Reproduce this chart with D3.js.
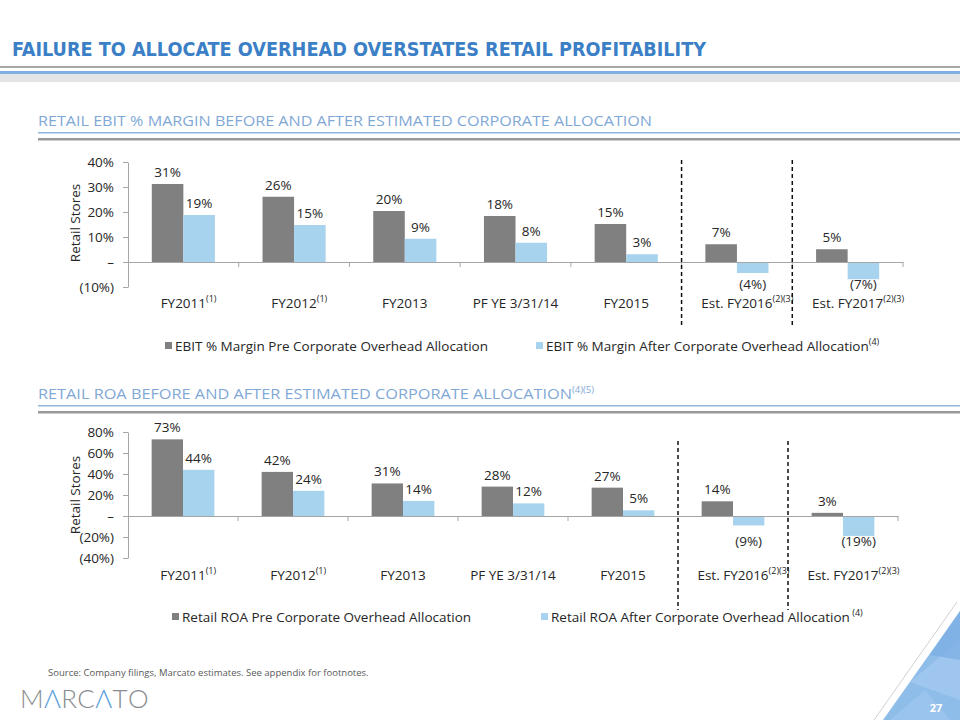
<!DOCTYPE html>
<html>
<head>
<meta charset="utf-8">
<script src="https://cdn.jsdelivr.net/npm/d3@7"></script>
<style>
  html, body { margin: 0; padding: 0; background: #fff; }
  svg { display: block; font-family: "Open Sans", "DejaVu Sans", sans-serif; }
</style>
</head>
<body>
<svg id="chart" width="960" height="720"></svg>
<script>
// ---------------- DATA ----------------
const categories = ["FY2011", "FY2012", "FY2013", "PF YE 3/31/14", "FY2015", "Est. FY2016", "Est. FY2017"];
const categoryNotes = ["(1)", "(1)", "", "", "", "(2)(3)", "(2)(3)"];

const ebitPre   = [0.312, 0.261, 0.204, 0.184, 0.152, 0.071, 0.051];
const ebitAfter = [0.188, 0.148, 0.093, 0.077, 0.031, -0.044, -0.069];
const ebitTicks = [-0.10, 0, 0.10, 0.20, 0.30, 0.40];
const ebitSeriesNames = ["EBIT % Margin Pre Corporate Overhead Allocation", "EBIT % Margin After Corporate Overhead Allocation"];
const ebitSeriesNotes = ["", "(4)"];

const roaPre   = [0.73, 0.42, 0.31, 0.28, 0.27, 0.14, 0.03];
const roaAfter = [0.44, 0.24, 0.144, 0.12, 0.054, -0.09, -0.19];
const roaTicks = [-0.40, -0.20, 0, 0.20, 0.40, 0.60, 0.80];
const roaSeriesNames = ["Retail ROA Pre Corporate Overhead Allocation", "Retail ROA After Corporate Overhead Allocation"];
const roaSeriesNotes = ["", " (4)"];

const dividerAfter = [4, 5]; // dashed separators after these category indexes

// ---------------- STYLE ----------------
const COL_PRE = "#808080";
const COL_AFTER = "#a8d3ee";
const TXT = "#262626";
const AXIS = "#a6a6a6";

const svg = d3.select("#chart");

// ---------------- HEADER ----------------
svg.append("text")
  .attr("x", 12).attr("y", 56)
  .attr("font-family", "'Liberation Sans Narrow', 'DejaVu Sans Condensed', 'Liberation Sans', sans-serif")
  .attr("font-weight", "bold").attr("font-size", 20)
  .attr("fill", "#3b7fc6")
  .attr("textLength", 694).attr("lengthAdjust", "spacingAndGlyphs")
  .text("FAILURE TO ALLOCATE OVERHEAD OVERSTATES RETAIL PROFITABILITY");

svg.append("rect").attr("x", 0).attr("y", 66).attr("width", 960).attr("height", 2).attr("fill", "#a9a9a9");
svg.append("rect").attr("x", 0).attr("y", 71).attr("width", 960).attr("height", 3).attr("fill", "#7eafe0");
svg.append("rect").attr("x", 0).attr("y", 74).attr("width", 960).attr("height", 8).attr("fill", "#e3e4e6");

function sectionHeader(y, label, note, len) {
  const t = svg.append("text")
    .attr("x", 38).attr("y", y)
    .attr("font-size", 15).attr("fill", "#7fa8d6");
  t.append("tspan").attr("textLength", len).attr("lengthAdjust", "spacingAndGlyphs").text(label);
  if (note) {
    t.append("tspan").attr("font-size", 9.5).attr("dy", -6).text(note);
  }
  svg.append("rect").attr("x", 38).attr("y", y + 6).attr("width", 922).attr("height", 1.5).attr("fill", "#8fb6de");
  svg.append("rect").attr("x", 38).attr("y", y + 12).attr("width", 922).attr("height", 2.5).attr("fill", "#9a9a9a");
}
sectionHeader(126, "RETAIL EBIT % MARGIN BEFORE AND AFTER ESTIMATED CORPORATE ALLOCATION", "", 614);
sectionHeader(399, "RETAIL ROA BEFORE AND AFTER ESTIMATED CORPORATE ALLOCATION", "(4)(5)", 534);

// ---------------- CHART ----------------
function pctFmt(v) {
  const r = Math.round(Math.abs(v) * 100);
  if (r === 0) return "\u2013";
  return v < 0 ? "(" + r + "%)" : r + "%";
}

function drawChart(cfg) {
  const g = svg.append("g");
  const x = d3.scaleBand().domain(categories).range(cfg.xRange).paddingInner(0).paddingOuter(0);
  const y = d3.scaleLinear().domain(cfg.yDomain).range(cfg.yRange);
  const groupW = x.bandwidth() * 0.57;
  const xs = d3.scaleBand().domain([0, 1]).range([0, groupW]).padding(0);

  // y axis
  const yAxis = d3.axisLeft(y).tickValues(cfg.ticks).tickFormat(pctFmt)
    .tickSize(5).tickSizeOuter(0).tickPadding(9);
  const ya = g.append("g").attr("transform", `translate(${cfg.xRange[0]},0)`).call(yAxis);
  ya.select(".domain").attr("stroke", AXIS);
  ya.selectAll(".tick line").attr("stroke", AXIS);
  ya.selectAll(".tick text").attr("fill", TXT).attr("font-size", 13.5)
    .attr("font-family", "'Open Sans', sans-serif");

  // y title
  g.append("text")
    .attr("transform", `translate(${cfg.yTitleX},${cfg.yTitleY}) rotate(-90)`)
    .attr("text-anchor", "middle").attr("font-size", 13.5).attr("fill", TXT)
    .text("Retail Stores");

  // bars
  const series = [cfg.pre, cfg.after];
  const colors = [COL_PRE, COL_AFTER];
  series.forEach((vals, si) => {
    g.append("g").selectAll("rect").data(vals).join("rect")
      .attr("x", (d, i) => x(categories[i]) + (x.bandwidth() - groupW) / 2 + xs(si))
      .attr("width", xs.bandwidth())
      .attr("y", d => y(Math.max(0, d)))
      .attr("height", d => Math.abs(y(d) - y(0)))
      .attr("fill", colors[si]);
  });

  // x axis line at zero
  const xa = g.append("g").attr("transform", `translate(0,${y(0)})`)
    .call(d3.axisBottom(x).tickSize(0).tickSizeOuter(0).tickFormat(""));
  xa.select(".domain").attr("stroke", AXIS);
  // boundary tick marks
  g.append("g").selectAll("line").data(categories).join("line")
    .attr("x1", c => x(c) + x.bandwidth()).attr("x2", c => x(c) + x.bandwidth())
    .attr("y1", y(0)).attr("y2", y(0) + 5)
    .attr("stroke", AXIS);

  // value labels
  const minNeg = d3.min(series.flat().filter(v => v < 0));
  series.forEach((vals, si) => {
    g.append("g").selectAll("text").data(vals).join("text")
      .attr("x", (d, i) => x(categories[i]) + (x.bandwidth() - groupW) / 2 + xs(si) + xs.bandwidth() / 2)
      .attr("y", d => d >= 0 ? y(d) - 7 : y(minNeg) + 10)
      .attr("text-anchor", "middle").attr("font-size", 13.5).attr("fill", TXT)
      .text(pctFmt);
  });

  // category labels
  const cl = g.append("g").selectAll("text").data(categories).join("text")
    .attr("y", cfg.catY).attr("font-size", 13.5).attr("fill", TXT);
  cl.each(function (c, i) {
    const t = d3.select(this);
    t.append("tspan").text(c);
    const w = this.getComputedTextLength();
    t.attr("x", x(c) + x.bandwidth() / 2 - w / 2);
    if (categoryNotes[i]) {
      t.append("tspan").attr("font-size", 9).attr("dy", -6).text(categoryNotes[i]);
    }
  });

  // dashed separators
  g.append("g").selectAll("line").data(dividerAfter).join("line")
    .attr("x1", i => x(categories[i]) + x.bandwidth())
    .attr("x2", i => x(categories[i]) + x.bandwidth())
    .attr("y1", cfg.dashY[0]).attr("y2", cfg.dashY[1])
    .attr("stroke", "#111").attr("stroke-width", 1.5).attr("stroke-dasharray", "4,3");

  // legend
  cfg.names.forEach((name, si) => {
    const lx = cfg.legendX[si];
    g.append("rect").attr("x", lx).attr("y", cfg.legendY - 9).attr("width", 7).attr("height", 7)
      .attr("fill", colors[si]);
    const t = g.append("text").attr("x", lx + 10).attr("y", cfg.legendY)
      .attr("font-size", 13.5).attr("fill", TXT);
    t.append("tspan").text(name);
    if (cfg.notes[si]) t.append("tspan").attr("font-size", 9).attr("dy", -6).text(cfg.notes[si]);
  });
}

drawChart({
  xRange: [128, 903], yDomain: [-0.10, 0.40], yRange: [287, 162], ticks: ebitTicks,
  pre: ebitPre, after: ebitAfter, names: ebitSeriesNames, notes: ebitSeriesNotes,
  yTitleX: 80, yTitleY: 223, catY: 308, dashY: [160, 327],
  legendX: [165, 536], legendY: 351
});

drawChart({
  xRange: [128, 898], yDomain: [-0.40, 0.80], yRange: [558, 432], ticks: roaTicks,
  pre: roaPre, after: roaAfter, names: roaSeriesNames, notes: roaSeriesNotes,
  yTitleX: 80, yTitleY: 495, catY: 580, dashY: [441, 610],
  legendX: [172, 541], legendY: 622
});

// ---------------- FOOTER ----------------
svg.append("text").attr("x", 48).attr("y", 676)
  .attr("font-size", 9.5).attr("fill", "#595959")
  .text("Source: Company filings, Marcato estimates. See appendix for footnotes.");

// logo: one text element per letter
const logoLetters = [["M", "#8a8c8f"], ["\u039B", "#5b9fdc"], ["R", "#8a8c8f"], ["C", "#8a8c8f"],
                     ["\u039B", "#5b9fdc"], ["T", "#8a8c8f"], ["O", "#8a8c8f"]];
const logoG = svg.append("g");
let lxPos = 20;
logoLetters.forEach(([s, c]) => {
  const t = logoG.append("text").attr("x", lxPos).attr("y", 708)
    .attr("font-family", "Lato, 'Open Sans', sans-serif").attr("font-weight", 300)
    .attr("font-size", 26).attr("fill", c).text(s);
  lxPos += t.node().getComputedTextLength() + 0.3;
});

// decorative corner
const deco = svg.append("g");
deco.append("line").attr("x1", 874).attr("y1", 720).attr("x2", 957).attr("y2", 602)
  .attr("stroke", "#d0d0d0").attr("stroke-width", 1);
deco.append("polygon").attr("points", "883,720 960,611 960,720").attr("fill", "#8fbde9");
deco.append("polygon").attr("points", "910,682 960,640 960,700").attr("fill", "#a5cbef").attr("opacity", 0.7);
deco.append("polygon").attr("points", "930,655 960,611 960,660").attr("fill", "#7aaee2").attr("opacity", 0.7);
deco.append("polygon").attr("points", "890,720 925,690 950,720").attr("fill", "#9ec8ee").attr("opacity", 0.7);
svg.append("text").attr("x", 936).attr("y", 712).attr("text-anchor", "middle")
  .attr("font-size", 11).attr("font-weight", "bold").attr("fill", "#fff").text("27");
</script>
</body>
</html>
